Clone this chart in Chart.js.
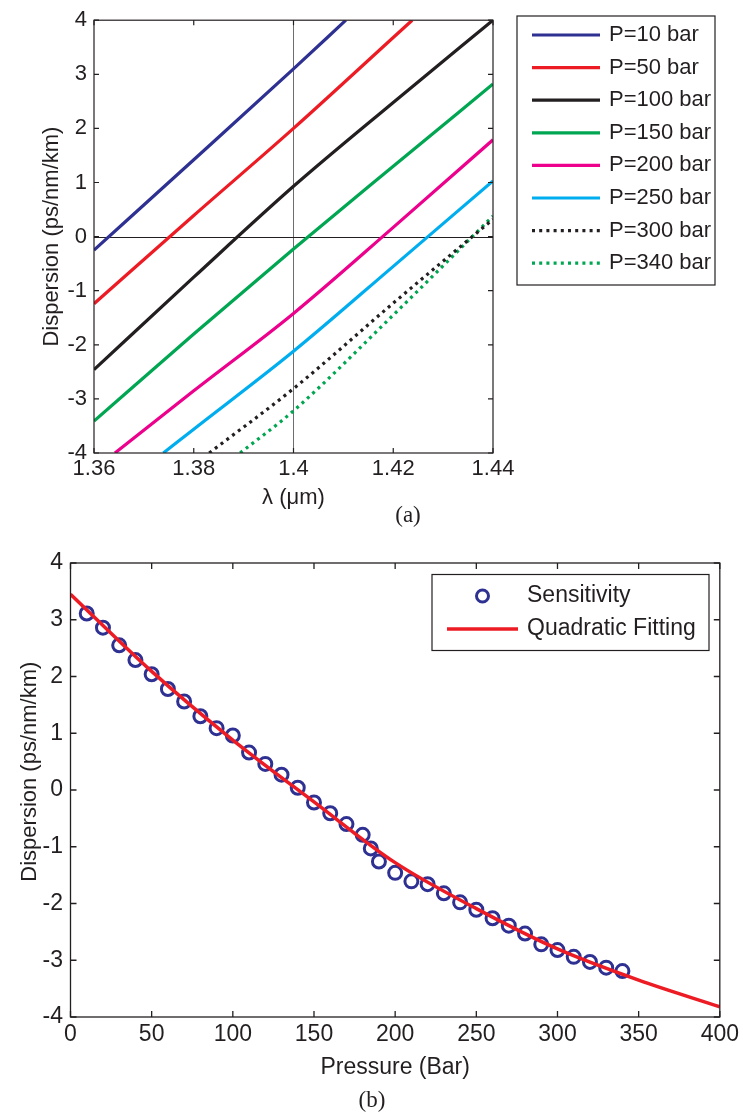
<!DOCTYPE html>
<html>
<head>
<meta charset="utf-8">
<script src="https://cdn.jsdelivr.net/npm/chart.js@4.4.0/dist/chart.umd.min.js"></script>
<style>
  html, body { margin: 0; padding: 0; background: #fff; }
  #page { position: relative; width: 743px; height: 1118px; overflow: hidden; }
  canvas { position: absolute; left: 0; }
  #chartA { top: 0; }
  #chartB { top: 540px; }
  .cap { position: absolute; font-family: 'Liberation Serif', 'Times New Roman', serif; font-size: 23px; color: #231f20; transform: translate(-50%, -50%); }
</style>
</head>
<body>
<div id="page">
  <canvas id="chartA" width="743" height="530"></canvas>
  <canvas id="chartB" width="743" height="578"></canvas>
  <div class="cap" style="left:408px;top:515px">(a)</div>
  <div class="cap" style="left:372px;top:1100px">(b)</div>
</div>
<script>
// ---- (a) dispersion vs wavelength, one curve per pressure ----
const seriesA = ['P=10 bar', 'P=50 bar', 'P=100 bar', 'P=150 bar', 'P=200 bar', 'P=250 bar', 'P=300 bar', 'P=340 bar'];

const lam10 = [1.36, 1.38, 1.40, 1.4105];
const disp10 = [-0.25, 1.42, 3.10, 4.0];
const lam50 = [1.36, 1.38, 1.40, 1.42, 1.4238];
const disp50 = [-1.24, 0.39, 2.00, 3.68, 4.0];
const lam100 = [1.36, 1.38, 1.40, 1.42, 1.44];
const disp100 = [-2.46, -0.75, 0.93, 2.48, 4.0];
const lam150 = [1.36, 1.38, 1.40, 1.42, 1.44];
const disp150 = [-3.41, -1.80, -0.23, 1.30, 2.82];
const lam200 = [1.3642, 1.38, 1.40, 1.42, 1.44];
const disp200 = [-4.0, -2.85, -1.42, 0.17, 1.79];
const lam250 = [1.3739, 1.38, 1.40, 1.42, 1.44];
const disp250 = [-4.0, -3.56, -2.12, -0.55, 1.03];
const lam300 = [1.3831, 1.40, 1.42, 1.44];
const disp300 = [-4.0, -2.81, -1.23, 0.32];
const lam340 = [1.3893, 1.40, 1.42, 1.44];
const disp340 = [-4.0, -3.22, -1.45, 0.38];

const lamTicks = [1.36, 1.38, 1.4, 1.42, 1.44];
const dispTicks = [-4, -3, -2, -1, 0, 1, 2, 3, 4];

// ---- (b) dispersion vs pressure ----
const pressure = [10, 20, 30, 40, 50, 60, 70, 80, 90, 100, 110, 120, 130, 140, 150, 160, 170, 180, 185,
  190, 200, 210, 220, 230, 240, 250, 260, 270, 280, 290, 300, 310, 320, 330, 340];
const sensitivity = [3.11, 2.86, 2.55, 2.29, 2.04, 1.78, 1.56, 1.30, 1.09, 0.96, 0.66, 0.46, 0.27, 0.04, -0.22, -0.41, -0.60, -0.79, -1.03,
  -1.26, -1.46, -1.61, -1.66, -1.82, -1.98, -2.11, -2.26, -2.39, -2.53, -2.72, -2.82, -2.94, -3.03, -3.13, -3.19];
const fitPressure = [0, 50, 100, 150, 200, 250, 300, 350, 400];
const fitDisp = [3.45, 2.09, 0.88, -0.21, -1.28, -2.09, -2.80, -3.35, -3.82];
const pressureTicks = [0, 50, 100, 150, 200, 250, 300, 350, 400];

const ink = '#231f20';
const family = "'Liberation Sans', Arial, Helvetica, sans-serif";
const colorsA = ['#2e3192', '#ed1c24', '#231f20', '#00a651', '#ec008c', '#00aeef', '#231f20', '#00a651'];
const dashesA = [[], [], [], [], [], [], [3, 4.2], [3, 4.2]];
const lamA = [lam10, lam50, lam100, lam150, lam200, lam250, lam300, lam340];
const dispA = [disp10, disp50, disp100, disp150, disp200, disp250, disp300, disp340];

function pts(xs, ys) {
  return xs.map((x, i) => ({ x: x, y: ys[i] }));
}

// box with inward ticks on all four sides, plus optional reference lines
const frame = {
  id: 'frame',
  beforeDatasetsDraw(chart, args, o) {
    const { ctx, chartArea: a, scales: { x, y } } = chart;
    ctx.save();
    ctx.lineWidth = 1;
    (o.refX || []).forEach(v => {
      const px = Math.round(x.getPixelForValue(v)) + 0.5;
      ctx.strokeStyle = '#6d6e71';
      ctx.beginPath(); ctx.moveTo(px, a.top); ctx.lineTo(px, a.bottom); ctx.stroke();
    });
    (o.refY || []).forEach(v => {
      const py = Math.round(y.getPixelForValue(v)) + 0.5;
      ctx.strokeStyle = ink;
      ctx.beginPath(); ctx.moveTo(a.left, py); ctx.lineTo(a.right, py); ctx.stroke();
    });
    ctx.restore();
  },
  afterDatasetsDraw(chart, args, o) {
    const { ctx, chartArea: a, scales: { x, y } } = chart;
    ctx.save();
    ctx.strokeStyle = ink;
    ctx.lineWidth = o.width;
    ctx.strokeRect(a.left, a.top, a.right - a.left, a.bottom - a.top);
    ctx.beginPath();
    x.ticks.forEach(t => {
      const px = x.getPixelForValue(t.value);
      ctx.moveTo(px, a.bottom); ctx.lineTo(px, a.bottom - o.tick);
      ctx.moveTo(px, a.top); ctx.lineTo(px, a.top + o.tick);
    });
    y.ticks.forEach(t => {
      const py = y.getPixelForValue(t.value);
      ctx.moveTo(a.left, py); ctx.lineTo(a.left + o.tick, py);
      ctx.moveTo(a.right, py); ctx.lineTo(a.right - o.tick, py);
    });
    ctx.stroke();
    ctx.restore();
  }
};

// matlab-like boxed legend
const boxLegend = {
  id: 'boxLegend',
  afterDraw(chart, args, o) {
    const ctx = chart.ctx;
    ctx.save();
    ctx.strokeStyle = ink;
    ctx.lineWidth = 1.2;
    ctx.strokeRect(o.box[0], o.box[1], o.box[2], o.box[3]);
    ctx.font = o.font;
    ctx.textBaseline = 'middle';
    ctx.textAlign = 'left';
    chart.data.datasets.forEach((ds, i) => {
      const y = o.rowY + i * o.rowGap;
      ctx.strokeStyle = ds.borderColor;
      ctx.lineWidth = ds.borderWidth;
      ctx.setLineDash(ds.borderDash || []);
      ctx.beginPath();
      if (ds.showLine) {
        ctx.moveTo(o.lineX[0], y); ctx.lineTo(o.lineX[1], y);
      } else {
        ctx.arc((o.lineX[0] + o.lineX[1]) / 2, y, o.markR, 0, Math.PI * 2);
      }
      ctx.stroke();
      ctx.setLineDash([]);
      ctx.fillStyle = ink;
      ctx.fillText(ds.label, o.textX, y);
    });
    ctx.restore();
  }
};

function axis(min, max, tickVals, size, fit, pad, title, titleSize, titlePad) {
  return {
    type: 'linear', min: min, max: max,
    afterBuildTicks: s => { s.ticks = tickVals.map(v => ({ value: v })); },
    afterFit: fit,
    grid: { display: false, drawTicks: false },
    border: { display: false },
    ticks: { padding: pad, color: ink, font: { family: family, size: size }, callback: v => String(v) },
    title: { display: true, text: title, color: ink, font: { family: family, size: titleSize }, padding: titlePad }
  };
}

new Chart(document.getElementById('chartA'), {
  type: 'scatter',
  data: {
    datasets: seriesA.map((label, i) => ({
      label: label,
      data: pts(lamA[i], dispA[i]),
      showLine: true,
      borderColor: colorsA[i],
      borderWidth: 3.2,
      borderDash: dashesA[i],
      borderCapStyle: 'butt',
      pointRadius: 0,
      cubicInterpolationMode: 'monotone',
      clip: 0
    }))
  },
  options: {
    responsive: false, animation: false, devicePixelRatio: 1,
    layout: { padding: { top: 16, right: 250, left: 0, bottom: 0 } },
    plugins: {
      legend: { display: false }, tooltip: { enabled: false },
      frame: { width: 1.2, tick: 5, refX: [1.4], refY: [0] },
      boxLegend: { box: [517, 16, 198, 269], rowY: 35, rowGap: 32.6, lineX: [532, 600], textX: 609, markR: 6, font: '22px ' + family }
    },
    scales: {
      x: axis(1.36, 1.44, lamTicks, 22, s => { s.height = 77; }, 3, 'λ (μm)', 22, { top: 0, bottom: 19 }),
      y: axis(-4, 4, dispTicks, 22, s => { s.width = 94; }, 7, 'Dispersion (ps/nm/km)', 22, { top: 39, bottom: 0 })
    }
  },
  plugins: [frame, boxLegend]
});

new Chart(document.getElementById('chartB'), {
  type: 'scatter',
  data: {
    datasets: [
      {
        label: 'Sensitivity',
        data: pts(pressure, sensitivity),
        showLine: false,
        borderColor: '#2e3192',
        backgroundColor: 'rgba(0,0,0,0)',
        borderWidth: 3,
        pointBorderWidth: 3,
        pointRadius: 6.5,
        pointStyle: 'circle',
        order: 2
      },
      {
        label: 'Quadratic Fitting',
        data: pts(fitPressure, fitDisp),
        showLine: true,
        borderColor: '#ed1c24',
        borderWidth: 3.5,
        pointRadius: 0,
        cubicInterpolationMode: 'monotone',
        clip: 0,
        order: 1
      }
    ]
  },
  options: {
    responsive: false, animation: false, devicePixelRatio: 1,
    layout: { padding: { top: 23, right: 21.5, left: 0, bottom: 0 } },
    plugins: {
      legend: { display: false }, tooltip: { enabled: false },
      frame: { width: 1.3, tick: 6 },
      boxLegend: { box: [432, 34.5, 277, 76], rowY: 56, rowGap: 33, lineX: [447, 518], textX: 527, markR: 6, font: '23px ' + family }
    },
    scales: {
      x: axis(0, 400, pressureTicks, 23, s => { s.height = 101; }, 4, 'Pressure (Bar)', 23, { top: 0, bottom: 37 }),
      // leading spaces lift the rotated title to where it sits in the figure
      y: axis(-4, 4, dispTicks, 23, s => { s.width = 70.5; }, 7.5, '\u00a0\u00a0\u00a0\u00a0\u00a0\u00a0Dispersion (ps/nm/km)', 22, { top: 17, bottom: 0 })
    }
  },
  plugins: [frame, boxLegend]
});
</script>
</body>
</html>
